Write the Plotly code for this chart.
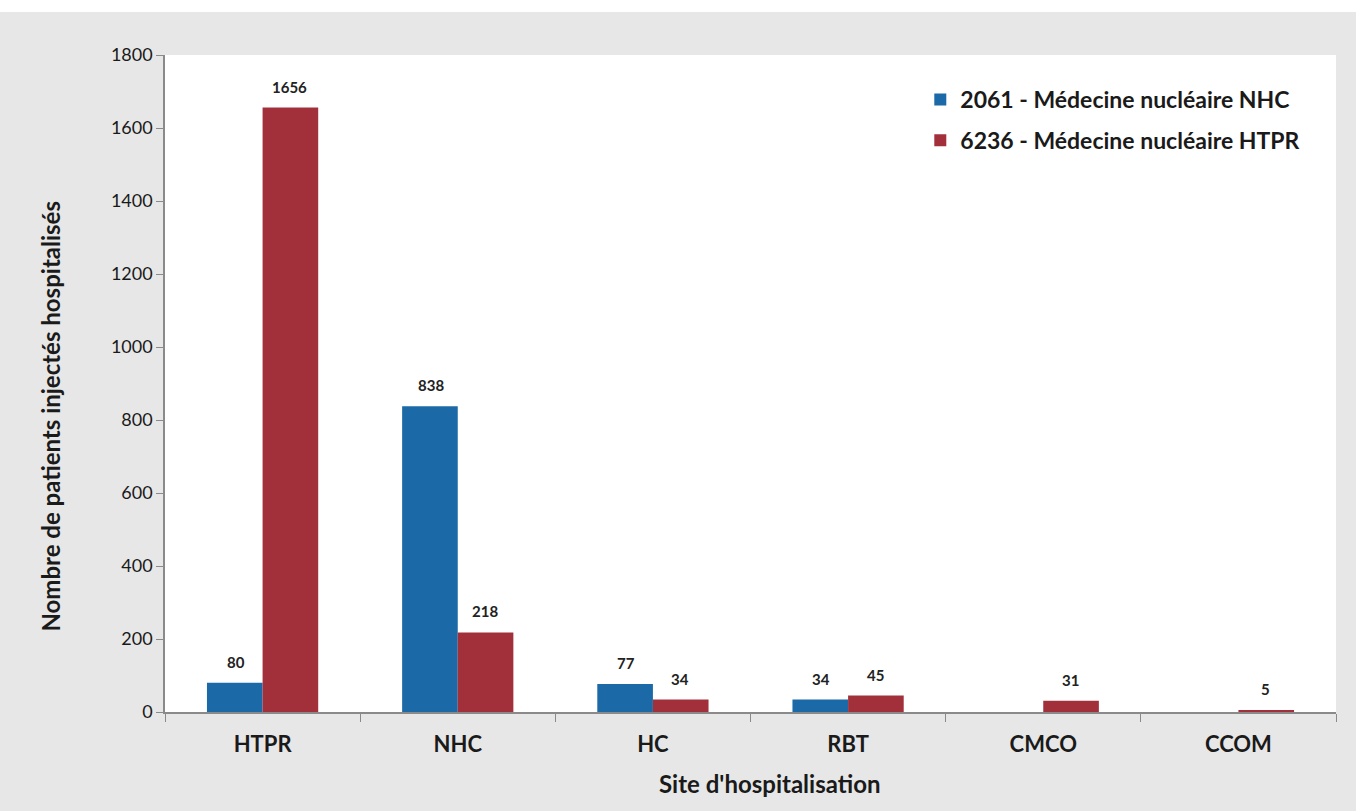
import plotly.graph_objects as go

categories = ["HTPR", "NHC", "HC", "RBT", "CMCO", "CCOM"]
nhc_values = [80, 838, 77, 34, None, None]
htpr_values = [1656, 218, 34, 45, 31, 5]
series_names = ["2061 - Médecine nucléaire NHC", "6236 - Médecine nucléaire HTPR"]
y_ticks = [0, 200, 400, 600, 800, 1000, 1200, 1400, 1600, 1800]

FONT = "Lato, 'Open Sans', sans-serif"
blue = "#1b69a6"
red = "#a2303b"

fig = go.Figure()
fig.add_trace(go.Bar(
    x=categories, y=nhc_values, name="<b>" + series_names[0] + "</b>",
    marker=dict(color=blue, line=dict(width=0)),
    legendgroup="a", offsetgroup="a",
))
fig.add_trace(go.Bar(
    x=categories, y=htpr_values, name="<b>" + series_names[1] + "</b>",
    marker=dict(color=red, line=dict(width=0)),
    legendgroup="b", offsetgroup="b",
))

# data labels placed above each bar (Excel style)
annotations = []
for vals, shift in ((nhc_values, -27), (htpr_values, 27)):
    for c, v in zip(categories, vals):
        if v is None:
            continue
        annotations.append(dict(
            x=c, y=v, xref="x", yref="y", text="<b>%d</b>" % v, showarrow=False,
            xshift=shift, yanchor="bottom", yshift=10,
            font=dict(family=FONT, size=15, color="#222"),
        ))

annotations.append(dict(
    text="<b>Nombre de patients injectés hospitalisés</b>", textangle=-90,
    xref="paper", yref="paper", x=-0.098, y=0.45, xanchor="center", yanchor="middle",
    showarrow=False, font=dict(family=FONT, size=24, color="#1a1a1a"),
))
annotations.append(dict(
    text="<b>Site d'hospitalisation</b>",
    xref="paper", yref="paper", x=0.517, y=-71/657, xanchor="center", yanchor="middle",
    showarrow=False, font=dict(family=FONT, size=24, color="#1a1a1a"),
))

fig.update_layout(
    width=1356, height=811,
    margin=dict(l=165, r=20, t=55, b=99),
    paper_bgcolor="#e7e7e7",
    plot_bgcolor="#ffffff",
    barmode="group",
    bargap=0.43,
    bargroupgap=0,
    font=dict(family=FONT, size=18, color="#1a1a1a"),
    showlegend=True,
    legend=dict(
        xref="paper", yref="paper",
        x=0.645, y=0.965, xanchor="left", yanchor="top",
        bgcolor="rgba(0,0,0,0)",
        font=dict(family=FONT, size=23, color="#1a1a1a"),
        traceorder="grouped", tracegroupgap=8,
        itemwidth=30,
    ),
    xaxis=dict(
        type="category",
        showline=True, linecolor="#8a8a8a", linewidth=1.5,
        ticks="outside", tickson="boundaries", ticklen=8, tickcolor="#8a8a8a",
        tickfont=dict(family=FONT, size=22, color="#1a1a1a"),
        tickprefix="<b>", ticksuffix="</b>",
        ticklabelstandoff=12,
        showgrid=False,
    ),
    yaxis=dict(
        range=[0, 1800], tickvals=y_ticks,
        showline=True, linecolor="#8a8a8a", linewidth=1.5,
        ticks="outside", ticklen=7, tickcolor="#8a8a8a",
        tickfont=dict(family=FONT, size=18, color="#1a1a1a"),
        showgrid=False, zeroline=False,
    ),
    annotations=annotations,
    shapes=[dict(type="rect", xref="paper", yref="paper", x0=-1, x1=2, y0=1.0 + 43/657, y1=1.2,
                 fillcolor="#ffffff", line=dict(width=0), layer="below")],
)

fig.write_html("out.html")
